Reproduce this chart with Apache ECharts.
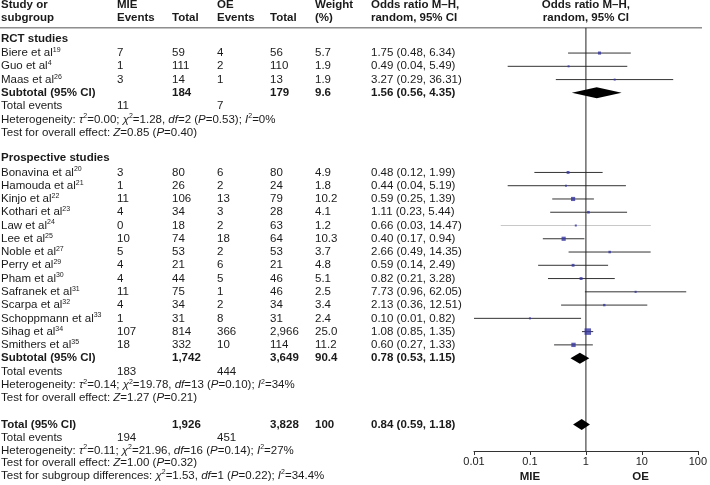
<!DOCTYPE html>
<html><head><meta charset="utf-8">
<script src="https://cdn.jsdelivr.net/npm/echarts@6/dist/echarts.min.js"></script>
<style>html,body{margin:0;padding:0;background:#fff}#c{width:710px;height:485px}</style>
</head><body><div id="c"></div>
<script>
// ---------- DATA ----------
const groupNames = ['RCT studies', 'Prospective studies'];
const studyNames = ['Biere et al','Guo et al','Maas et al',
  'Bonavina et al','Hamouda et al','Kinjo et al','Kothari et al','Law et al','Lee et al','Noble et al',
  'Perry et al','Pham et al','Safranek et al','Scarpa et al','Schoppmann et al','Sihag et al','Smithers et al'];
const studyRefs = ['19','4','26','20','21','22','23','24','25','27','29','30','31','32','33','34','35'];
const studyGroup = [0,0,0,1,1,1,1,1,1,1,1,1,1,1,1,1,1];
const mieEvents = [7,1,3,3,1,11,4,0,10,5,4,4,11,4,1,107,18];
const mieTotal  = [59,111,14,80,26,106,34,18,74,53,21,44,75,34,31,814,332];
const oeEvents  = [4,2,1,6,2,13,3,2,18,2,6,5,1,2,8,366,10];
const oeTotal   = [56,110,13,80,24,79,28,63,64,53,21,46,46,34,31,2966,114];
const weights   = [5.7,1.9,1.9,4.9,1.8,10.2,4.1,1.2,10.3,3.7,4.8,5.1,2.5,3.4,2.4,25.0,11.2];
const oddsRatio = [1.75,0.49,3.27,0.48,0.44,0.59,1.11,0.66,0.40,2.66,0.59,0.82,7.73,2.13,0.10,1.08,0.60];
const ciLow     = [0.48,0.04,0.29,0.12,0.04,0.25,0.23,0.03,0.17,0.49,0.14,0.21,0.96,0.36,0.01,0.85,0.27];
const ciHigh    = [6.34,5.49,36.31,1.99,5.19,1.39,5.44,14.47,0.94,14.35,2.49,3.28,62.05,12.51,0.82,1.35,1.33];

const groupMieTotal = [184, 1742];
const groupOeTotal  = [179, 3649];
const groupWeight   = [9.6, 90.4];
const groupOR       = [1.56, 0.78];
const groupLow      = [0.56, 0.53];
const groupHigh     = [4.35, 1.15];
const groupMieEvents = [11, 183];
const groupOeEvents  = [7, 444];
const groupTau2 = [0.00, 0.14];
const groupChi2 = [1.28, 19.78];
const groupDf   = [2, 13];
const groupHetP = [0.53, 0.10];
const groupI2   = ['0', '34'];
const groupZ    = [0.85, 1.27];
const groupZP   = [0.40, 0.21];

const totalMieTotal = 1926, totalOeTotal = 3828, totalWeight = '100';
const totalOR = 0.84, totalLow = 0.59, totalHigh = 1.18;
const totalMieEvents = 194, totalOeEvents = 451;
const totalTau2 = 0.11, totalChi2 = 21.96, totalDf = 16, totalHetP = 0.14, totalI2 = '27';
const totalZ = 1.00, totalZP = 0.32;
const subgroupChi2 = 1.53, subgroupDf = 1, subgroupP = 0.22, subgroupI2 = '34.4';

const xTickLabels = ['0.01','0.1','1','10','100'];
const favourLabels = ['MIE','OE'];

// ---------- LAYOUT ----------
const FONT = "'Liberation Sans', Arial, sans-serif";
const INK = '#1a1a1a';
const FS = 11.5;
const COL = {study:1, mieEv:117, mieTot:172, oeEv:217, oeTot:270, wt:315, or:371};
const FAINT_CI = 'Law et al';

const fmtInt = n => String(n).replace(/\B(?=(\d{3})+(?!\d))/g, ',');
const fmtOR = (o,l,h) => `${o.toFixed(2)} (${l.toFixed(2)}, ${h.toFixed(2)})`;
const het = (t2,c2,df,p,i2) => `{n|Heterogeneity: }{i|τ}{s|2}{n|=${t2.toFixed(2)}; }{i|χ}{s|2}{n|=${c2.toFixed(2)}, }{i|df}{n|=${df} (}{i|P}{n|=${p.toFixed(2)}); }{i|I}{s|2}{n|=${i2}%}`;
const zTest = (z,p) => `{n|Test for overall effect: }{i|Z}{n|=${z.toFixed(2)} (}{i|P}{n|=${p.toFixed(2)})}`;

const RICH = {
  n: {fontSize:FS, fontFamily:FONT, fill:INK, lineHeight:13},
  b: {fontSize:FS, fontFamily:FONT, fill:INK, fontWeight:'bold', lineHeight:13},
  i: {fontSize:FS, fontFamily:FONT, fill:INK, fontStyle:'italic', lineHeight:13},
  s: {fontSize:7, fontFamily:FONT, fill:INK, lineHeight:8, verticalAlign:'top'}
};

const cells = [];
const cell = (x,row,text,align) => cells.push({x,row,text,align:align||'left'});

// header
cell(COL.study,-3.6,'{b|Study or}'); cell(COL.study,-2.65,'{b|subgroup}');
cell(COL.mieEv,-3.6,'{b|MIE}'); cell(COL.mieEv,-2.65,'{b|Events}'); cell(COL.mieTot,-2.65,'{b|Total}');
cell(COL.oeEv,-3.6,'{b|OE}'); cell(COL.oeEv,-2.65,'{b|Events}'); cell(COL.oeTot,-2.65,'{b|Total}');
cell(COL.wt,-3.6,'{b|Weight}'); cell(COL.wt,-2.65,'{b|(%)}');
cell(COL.or,-3.6,'{b|Odds ratio M–H,}'); cell(COL.or,-2.65,'{b|random, 95% CI}');

const studyRow = [];
const groupStart = [0, 9];
const subtotalRow = [];
groupNames.forEach((g, gi) => {
  const start = groupStart[gi];
  cell(COL.study, start - 1.1, `{b|${g}}`);
  let k = 0;
  studyNames.forEach((name, i) => {
    if (studyGroup[i] !== gi) return;
    const r = start + k; k++;
    studyRow[i] = r;
    cell(COL.study, r, `{n|${name}}{s|${studyRefs[i]}}`);
    cell(COL.mieEv, r, `{n|${mieEvents[i]}}`);
    cell(COL.mieTot, r, `{n|${fmtInt(mieTotal[i])}}`);
    cell(COL.oeEv, r, `{n|${oeEvents[i]}}`);
    cell(COL.oeTot, r, `{n|${fmtInt(oeTotal[i])}}`);
    cell(COL.wt, r, `{n|${weights[i].toFixed(1)}}`);
    cell(COL.or, r, `{n|${fmtOR(oddsRatio[i], ciLow[i], ciHigh[i])}}`);
  });
  const sr = start + k;
  subtotalRow[gi] = sr;
  cell(COL.study, sr, '{b|Subtotal (95% CI)}');
  cell(COL.mieTot, sr, `{b|${fmtInt(groupMieTotal[gi])}}`);
  cell(COL.oeTot, sr, `{b|${fmtInt(groupOeTotal[gi])}}`);
  cell(COL.wt, sr, `{b|${groupWeight[gi].toFixed(1)}}`);
  cell(COL.or, sr, `{b|${fmtOR(groupOR[gi], groupLow[gi], groupHigh[gi])}}`);
  cell(COL.study, sr+1, '{n|Total events}');
  cell(COL.mieEv, sr+1, `{n|${groupMieEvents[gi]}}`);
  cell(COL.oeEv, sr+1, `{n|${groupOeEvents[gi]}}`);
  cell(COL.study, sr+2, het(groupTau2[gi], groupChi2[gi], groupDf[gi], groupHetP[gi], groupI2[gi]));
  cell(COL.study, sr+3, zTest(groupZ[gi], groupZP[gi]));
});
const totalRow = 28;
cell(COL.study, totalRow, '{b|Total (95% CI)}');
cell(COL.mieTot, totalRow, `{b|${fmtInt(totalMieTotal)}}`);
cell(COL.oeTot, totalRow, `{b|${fmtInt(totalOeTotal)}}`);
cell(COL.wt, totalRow, `{b|${totalWeight}}`);
cell(COL.or, totalRow, `{b|${fmtOR(totalOR, totalLow, totalHigh)}}`);
cell(COL.study, 29, '{n|Total events}');
cell(COL.mieEv, 29, `{n|${totalMieEvents}}`);
cell(COL.oeEv, 29, `{n|${totalOeEvents}}`);
cell(COL.study, 29.95, het(totalTau2, totalChi2, totalDf, totalHetP, totalI2));
cell(COL.study, 30.9, zTest(totalZ, totalZP));
cell(COL.study, 31.85, `{n|Test for subgroup differences: }{i|χ}{s|2}{n|=${subgroupChi2.toFixed(2)}, }{i|df}{n|=${subgroupDf} (}{i|P}{n|=${subgroupP.toFixed(2)}); }{i|I}{s|2}{n|=${subgroupI2}%}`);

// forest-side texts (in log-axis coordinates)
const forestCells = [
  {x:1, row:-3.6, text:'{b|Odds ratio M–H,}', align:'center'},
  {x:1, row:-2.65, text:'{b|random, 95% CI}', align:'center'},
  {x:0.1, row:31.95, text:`{b|${favourLabels[0]}}`, align:'center'},
  {x:9.5, row:31.95, text:`{b|${favourLabels[1]}}`, align:'center'}
];

const diamonds = [
  [groupLow[0], groupOR[0], groupHigh[0], subtotalRow[0]],
  [groupLow[1], groupOR[1], groupHigh[1], subtotalRow[1]],
  [totalLow, totalOR, totalHigh, totalRow]
];

const textRender = list => (params, api) => {
  const c = list[params.dataIndex];
  const p = api.coord([c.x, c.row]);
  return {type:'text', x:p[0], y:p[1], silent:true,
    style:{text:c.text, rich:RICH, fill:INK, fontSize:FS, fontFamily:FONT, align:c.align, verticalAlign:'middle'}};
};

const chart = echarts.init(document.getElementById('c'), null, {renderer:'canvas'});
chart.setOption({
  animation:false,
  backgroundColor:'#fff',
  grid:[
    {left:474, right:7, top:0, bottom:34},
    {left:0, right:0, top:0, bottom:34}
  ],
  xAxis:[
    {type:'log', logBase:10, min:0.01, max:100, gridIndex:0,
     axisLine:{show:true, onZero:false, lineStyle:{color:'#333', width:1}},
     axisTick:{show:true, length:4, lineStyle:{color:'#333'}},
     splitLine:{show:false}, minorTick:{show:false},
     axisLabel:{fontSize:11, color:INK, fontFamily:FONT, margin:5,
       formatter:v => xTickLabels[Math.round(Math.log10(v)) + 2]}},
    {type:'value', min:0, max:710, gridIndex:1, show:false}
  ],
  yAxis:[
    {type:'value', inverse:true, min:-4, max:30, gridIndex:0, show:false},
    {type:'value', inverse:true, min:-4, max:30, gridIndex:1, show:false}
  ],
  series:[
    { // header rule
      type:'custom', xAxisIndex:1, yAxisIndex:1, data:[[0,-1.9,702]],
      renderItem:(params, api) => {
        const a = api.coord([api.value(0), api.value(1)]);
        const b = api.coord([api.value(2), api.value(1)]);
        return {type:'line', shape:{x1:a[0], y1:a[1], x2:b[0], y2:a[1]}, style:{stroke:'#555', lineWidth:1}};
      }
    },
    { // table text
      type:'custom', xAxisIndex:1, yAxisIndex:1,
      data:cells.map(c => [c.x, c.row]),
      renderItem:textRender(cells)
    },
    { // line of no effect
      type:'line', xAxisIndex:0, yAxisIndex:0, data:[[1,-1.9],[1,30]],
      symbol:'none', lineStyle:{color:'#222', width:1}, silent:true
    },
    { // CI lines
      type:'custom', xAxisIndex:0, yAxisIndex:0,
      data:studyNames.map((n,i) => [ciLow[i], ciHigh[i], studyRow[i], i]),
      renderItem:(params, api) => {
        const a = api.coord([api.value(0), api.value(2)]);
        const b = api.coord([api.value(1), api.value(2)]);
        const faint = studyNames[api.value(3)] === FAINT_CI;
        return {type:'line', shape:{x1:a[0], y1:a[1], x2:b[0], y2:a[1]},
          style:{stroke: faint ? '#c8c8c8' : '#333', lineWidth:1}};
      }
    },
    { // point estimates
      type:'scatter', xAxisIndex:0, yAxisIndex:0, symbol:'rect',
      data:studyNames.map((n,i) => [oddsRatio[i], studyRow[i], weights[i]]),
      symbolSize:v => Math.max(2, Math.sqrt(v[2]) * 1.3),
      itemStyle:{color:'#3535a0'}, silent:true, z:5
    },
    { // pooled diamonds
      type:'custom', xAxisIndex:0, yAxisIndex:0, data:diamonds,
      renderItem:(params, api) => {
        const l = api.coord([api.value(0), api.value(3)]);
        const m = api.coord([api.value(1), api.value(3)]);
        const h = api.coord([api.value(2), api.value(3)]);
        const hh = 5.5;
        return {type:'polygon', shape:{points:[[l[0],l[1]],[m[0],m[1]-hh],[h[0],h[1]],[m[0],m[1]+hh]]},
          style:{fill:'#000'}, z2:10};
      }, z:6
    },
    { // forest texts
      type:'custom', xAxisIndex:0, yAxisIndex:0,
      data:forestCells.map(c => [c.x, c.row]),
      renderItem:textRender(forestCells)
    }
  ]
});
</script></body></html>
